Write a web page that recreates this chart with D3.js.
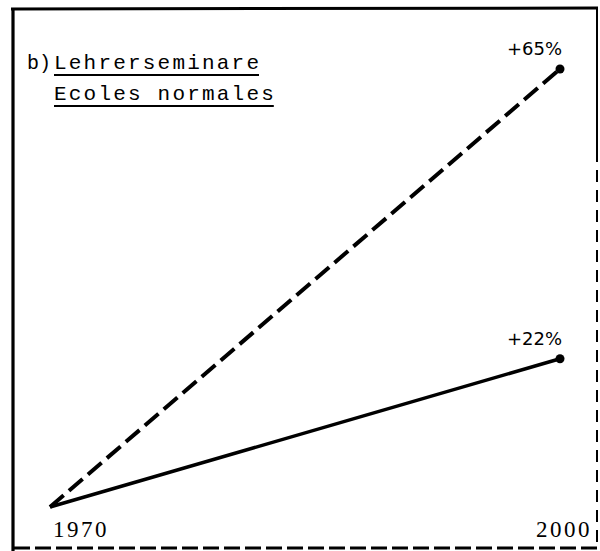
<!DOCTYPE html>
<html>
<head>
<meta charset="utf-8">
<script src="https://cdn.jsdelivr.net/npm/d3@7/dist/d3.min.js"></script>
<style>
  html, body { margin: 0; padding: 0; background: #fff; }
  svg { display: block; }
</style>
</head>
<body>
<svg id="chart" width="600" height="551"></svg>
<script>
// ---- data ----
const years = [1970, 2000];
const seminareGrowth = [0, 65];   // dashed line, % change
const normalGrowth = [0, 22];     // solid line, % change
const endLabels = ["+65%", "+22%"];
const yearLabels = ["1970", "2000"];
const titleLines = ["Lehrerseminare", "Ecoles normales"];
const titlePrefix = "b)";

const svg = d3.select("#chart");

const x = d3.scaleLinear().domain([1970, 2000]).range([50, 560]);
const y = d3.scaleLinear().domain([0, 65]).range([507, 69]);

// ---- frame ----
const ink = "#000";
svg.append("line").attr("x1", 13).attr("y1", 8).attr("x2", 13).attr("y2", 551)
  .attr("stroke", ink).attr("stroke-width", 3.2);
svg.append("line").attr("x1", 11).attr("y1", 9).attr("x2", 598).attr("y2", 8)
  .attr("stroke", ink).attr("stroke-width", 3);
svg.append("line").attr("x1", 597).attr("y1", 8).attr("x2", 597).attr("y2", 150)
  .attr("stroke", ink).attr("stroke-width", 2);
svg.append("line").attr("x1", 597).attr("y1", 150).attr("x2", 597).attr("y2", 548)
  .attr("stroke", ink).attr("stroke-width", 2).attr("stroke-dasharray", "12 8");
svg.append("line").attr("x1", 14).attr("y1", 548).attr("x2", 598).attr("y2", 548)
  .attr("stroke", ink).attr("stroke-width", 3).attr("stroke-dasharray", "16 5");

// ---- title ----
const tf = "'Liberation Mono', 'DejaVu Sans Mono', monospace";
svg.append("text").attr("x", 27).attr("y", 69).text(titlePrefix)
  .attr("font-family", tf).attr("font-size", 20).attr("letter-spacing", 0).attr("fill", ink);
const tY = [69, 100];
titleLines.forEach((t, i) => {
  svg.append("text").attr("x", 54).attr("y", tY[i]).text(t)
    .attr("font-family", tf).attr("font-size", 21).attr("letter-spacing", 2.2)
    .attr("fill", ink);
  const w = t.length * (21 * 0.6 + 2.2) - 2.2;
  svg.append("line").attr("x1", 54).attr("x2", 54 + w)
    .attr("y1", tY[i] + 6).attr("y2", tY[i] + 6)
    .attr("stroke", ink).attr("stroke-width", 2);
});

// ---- lines ----
const line = d3.line().x((d, i) => x(years[i])).y(d => y(d));
svg.append("path").datum(seminareGrowth).attr("d", line)
  .attr("fill", "none").attr("stroke", ink).attr("stroke-width", 4)
  .attr("stroke-dasharray", "18 7");
svg.append("path").datum(normalGrowth).attr("d", line)
  .attr("fill", "none").attr("stroke", ink).attr("stroke-width", 3.5);

// end dots
[seminareGrowth, normalGrowth].forEach(s => {
  svg.append("circle").attr("cx", x(years[1])).attr("cy", y(s[1])).attr("r", 4.5).attr("fill", ink);
});

// end labels
const lf = "'DejaVu Sans', sans-serif";
[seminareGrowth, normalGrowth].forEach((s, i) => {
  svg.append("text").attr("x", 562).attr("y", y(s[1]) - 14)
    .attr("text-anchor", "end").text(endLabels[i])
    .attr("font-family", lf).attr("font-size", 18).attr("fill", ink);
});

// year labels
const yf = "'Liberation Serif', serif";
svg.append("text").attr("x", 53).attr("y", 537).text(yearLabels[0])
  .attr("font-family", yf).attr("font-size", 23).attr("letter-spacing", 2.5).attr("fill", ink);
svg.append("text").attr("x", 592).attr("y", 537).attr("text-anchor", "end").text(yearLabels[1])
  .attr("font-family", yf).attr("font-size", 23).attr("letter-spacing", 2.5).attr("fill", ink);
</script>
</body>
</html>
